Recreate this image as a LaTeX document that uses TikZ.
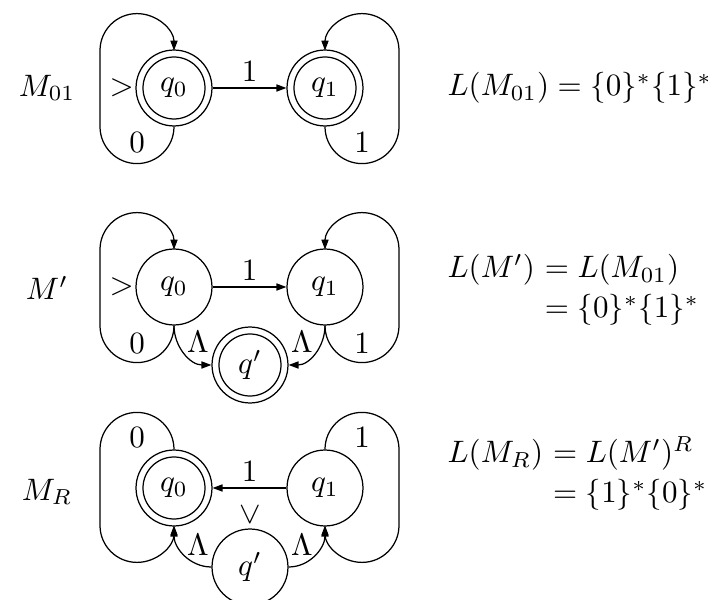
\documentclass[tikz,border=0pt]{standalone}
\usepackage{amsmath}
\usetikzlibrary{arrows.meta}
\begin{document}
\begin{tikzpicture}[x=0.32258pt, y=0.32258pt,
  state/.style={draw, circle, minimum size=24.5pt, inner sep=0pt},
  accepting/.style={state, path picture={\draw (path picture bounding box.center) circle[radius=10pt];}},
  edge/.style={-{Triangle[length=3.2pt,width=2.3pt]}},
  lab/.style={inner sep=0pt},
  startmark/.style={inner sep=0.3pt}
]
\useasboundingbox (0,0) rectangle (708,600);

% ---------- Row 1 : M_01
\node (m1) at (47,512) {$M_{01}$};
\node[accepting] (q0a) at (174,512) {$q_0$};
\node[accepting] (q1a) at (325,512) {$q_1$};
\node[startmark, anchor=east] (s1) at (q0a.west) {$>$};
\draw[edge] (q0a) -- node[above, inner sep=2pt] (t1) {$1$} (q1a);
\draw[edge] (q0a.south) arc[start angle=0,end angle=-180,radius=37] -- ++(0,76) arc[start angle=180,end angle=0,radius=37];
\draw[edge] (q1a.south) arc[start angle=180,end angle=360,radius=37] -- ++(0,76) arc[start angle=0,end angle=180,radius=37];
\node[lab] (l1a) at (137,457) {$0$};
\node[lab] (l1b) at (362,457) {$1$};
\node[lab, anchor=west] (e1) at (447,512) {$L(M_{01}) = \{0\}^*\{1\}^*$};

% ---------- Row 2 : M'
\node (m2) at (47,312) {$M'$};
\node[state] (q0b) at (174,313) {$q_0$};
\node[state] (q1b) at (325,313) {$q_1$};
\node[accepting] (qpb) at (250,235) {$q'$};
\node[startmark, anchor=east] (s2) at (q0b.west) {$>$};
\draw[edge] (q0b) -- node[above, inner sep=2pt] (t2) {$1$} (q1b);
\draw[edge] (q0b.south) arc[start angle=0,end angle=-180,radius=37] -- ++(0,76) arc[start angle=180,end angle=0,radius=37];
\draw[edge] (q1b.south) arc[start angle=180,end angle=360,radius=37] -- ++(0,76) arc[start angle=0,end angle=180,radius=37];
\draw[edge] (q0b.south) to[out=-90,in=180] (qpb.west);
\draw[edge] (q1b.south) to[out=-90,in=0] (qpb.east);
\node[lab] (l2a) at (137,256) {$0$};
\node[lab] (l2b) at (362,256) {$1$};
\node[lab] (l2c) at (198,258) {$\Lambda$};
\node[lab] (l2d) at (302,258) {$\Lambda$};
\node[lab, anchor=base west] (e2l) at (447,322) {$L(M')$};
\node[lab, anchor=base west] (e2r) at (e2l.base east) {${}= L(M_{01})$};
\node[lab, anchor=base west] (e2s) at ([yshift=-12.9pt]e2r.base west) {${}= \{0\}^*\{1\}^*$};

% ---------- Row 3 : M_R
\node (m3) at (47,108) {$M_R$};
\node[accepting] (q0c) at (174,112) {$q_0$};
\node[state] (q1c) at (325,112) {$q_1$};
\node[state] (qpc) at (250,33) {$q'$};
\node[startmark, anchor=east, rotate=-90] (s3) at (qpc.north) {$>$};
\draw[edge] (q1c) -- node[above, inner sep=2pt] (t3) {$1$} (q0c);
\draw[edge] (q0c.north) arc[start angle=0,end angle=180,radius=37] -- ++(0,-76) arc[start angle=180,end angle=360,radius=37];
\draw[edge] (q1c.north) arc[start angle=180,end angle=0,radius=37] -- ++(0,-76) arc[start angle=0,end angle=-180,radius=37];
\draw[edge] (qpc.west) to[out=180,in=-90] (q0c.south);
\draw[edge] (qpc.east) to[out=0,in=-90] (q1c.south);
\node[lab] (l3a) at (137,162) {$0$};
\node[lab] (l3b) at (362,162) {$1$};
\node[lab] (l3c) at (198,55) {$\Lambda$};
\node[lab] (l3d) at (302,55) {$\Lambda$};
\node[lab, anchor=base west] (e3l) at (447,137) {$L(M_R)$};
\node[lab, anchor=base west] (e3r) at (e3l.base east) {${}= L(M')^R$};
\node[lab, anchor=base west] (e3s) at ([yshift=-12.9pt]e3r.base west) {${}= \{1\}^*\{0\}^*$};
\end{tikzpicture}
\end{document}
